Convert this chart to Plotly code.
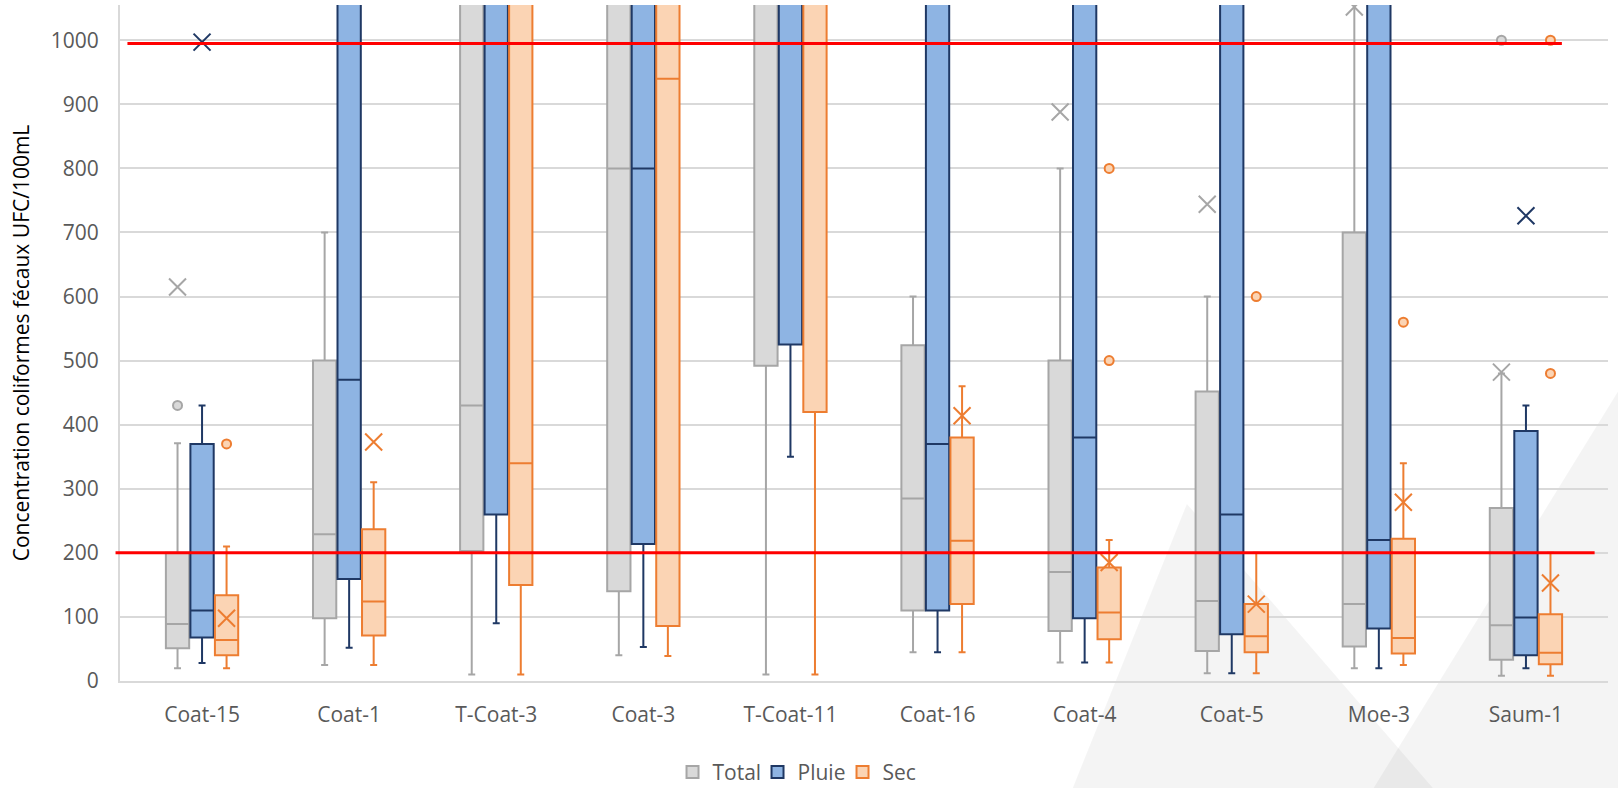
import plotly.graph_objects as go

# ---------------- data ----------------
categories = ["Coat-15", "Coat-1", "T-Coat-3", "Coat-3", "T-Coat-11",
              "Coat-16", "Coat-4", "Coat-5", "Moe-3", "Saum-1"]

# Total
total_lower = [20, 25, 10, 40, 10, 45, 29, 12, 20, 8]
total_q1 = [51, 98, 203, 140, 492, 110, 78, 47, 54, 33]
total_median = [89, 229, 430, 800, 1200, 285, 170, 125, 120, 87]
total_q3 = [200, 500, 1400, 1400, 1600, 524, 500, 452, 700, 270]
total_upper = [371, 700, 2000, 2000, 2500, 600, 800, 600, 1300, 480]
total_mean = [615, None, None, None, None, None, 888, 744, 1052, 482]
total_out_x = ["Coat-15", "Saum-1"]
total_out_y = [430, 1000]

# Pluie
pluie_lower = [28, 52, 90, 53, 350, 45, 29, 12, 20, 20]
pluie_q1 = [68, 159, 260, 214, 525, 110, 98, 73, 82, 40]
pluie_median = [110, 470, 1150, 800, 1300, 370, 380, 260, 220, 99]
pluie_q3 = [370, 1500, 2500, 1500, 3000, 1500, 1500, 1500, 1500, 390]
pluie_upper = [430, 3000, 5000, 3000, 6000, 3000, 3000, 3000, 3000, 430]
pluie_mean = [997, None, None, None, None, None, None, None, None, 726]
pluie_out_x = []
pluie_out_y = []

# Sec
sec_lower = [20, 25, 10, 39, 10, 45, 29, 12, 25, 8]
sec_q1 = [40, 71, 150, 86, 420, 120, 65, 45, 43, 26]
sec_median = [64, 124, 340, 940, 1200, 219, 107, 70, 67, 44]
sec_q3 = [134, 237, 1200, 1300, 1600, 380, 177, 120, 222, 104]
sec_upper = [210, 310, 2000, 2000, 2500, 460, 220, 200, 340, 200]
sec_mean = [98, 373, None, None, None, 414, 185, 120, 279, 153]
sec_out_x = ["Coat-15", "Coat-4", "Coat-4", "Coat-5", "Moe-3", "Saum-1", "Saum-1"]
sec_out_y = [370, 800, 500, 600, 560, 1000, 480]

thresholds = [200, 995]
y_ticks = [0, 100, 200, 300, 400, 500, 600, 700, 800, 900, 1000]

# ---------------- styling ----------------
FONT = "Open Sans"
series = [
    dict(name="Total", lower=total_lower, q1=total_q1, med=total_median, q3=total_q3,
         upper=total_upper, mean=total_mean, ox=total_out_x, oy=total_out_y,
         fill="#d9d9d9", line="#a6a6a6"),
    dict(name="Pluie", lower=pluie_lower, q1=pluie_q1, med=pluie_median, q3=pluie_q3,
         upper=pluie_upper, mean=pluie_mean, ox=pluie_out_x, oy=pluie_out_y,
         fill="#8eb4e3", line="#1f3864"),
    dict(name="Sec", lower=sec_lower, q1=sec_q1, med=sec_median, q3=sec_q3,
         upper=sec_upper, mean=sec_mean, ox=sec_out_x, oy=sec_out_y,
         fill="#fbd4b4", line="#ed7d31"),
]

fig = go.Figure()

for s in series:
    fig.add_trace(go.Box(
        name=s["name"], x=categories,
        q1=s["q1"], median=s["med"], q3=s["q3"],
        lowerfence=s["lower"], upperfence=s["upper"],
        offsetgroup=s["name"], boxpoints=False,
        fillcolor=s["fill"], line=dict(color=s["line"], width=2),
        whiskerwidth=0.3, hoverinfo="y",
    ))

for s in series:
    mx = [c for c, m in zip(categories, s["mean"]) if m is not None]
    my = [m for m in s["mean"] if m is not None]
    fig.add_trace(go.Box(
        x=mx, y=my, name=s["name"] + " moyenne", offsetgroup=s["name"],
        boxpoints="all", jitter=0, pointpos=0, showlegend=False,
        fillcolor="rgba(0,0,0,0)", line=dict(width=0, color="rgba(0,0,0,0)"),
        marker=dict(symbol="x-thin", size=17, color=s["line"],
                    line=dict(width=2, color=s["line"])),
        hoveron="points", hoverinfo="y",
    ))

for s in series:
    if not s["ox"]:
        continue
    fig.add_trace(go.Box(
        x=s["ox"], y=s["oy"], name=s["name"] + " aberrant", offsetgroup=s["name"],
        boxpoints="all", jitter=0, pointpos=0, showlegend=False,
        fillcolor="rgba(0,0,0,0)", line=dict(width=0, color="rgba(0,0,0,0)"),
        marker=dict(symbol="circle", size=9, color=s["fill"],
                    line=dict(width=2, color=s["line"])),
        hoveron="points", hoverinfo="y",
    ))

shapes = []
# background decoration (light grey triangles, bottom right)
shapes.append(dict(type="path", xref="paper", yref="paper", layer="below",
                   path="M 0.717 0.262 L 0.640 -0.16 L 0.883 -0.16 Z",
                   fillcolor="rgba(0,0,0,0.045)", line=dict(width=0)))
shapes.append(dict(type="path", xref="paper", yref="paper", layer="below",
                   path="M 1.01 0.44 L 0.842 -0.16 L 1.01 -0.16 Z",
                   fillcolor="rgba(0,0,0,0.045)", line=dict(width=0)))
# red threshold lines
shapes.append(dict(type="line", xref="paper", yref="y", x0=-0.003, x1=0.991,
                   y0=thresholds[0], y1=thresholds[0],
                   line=dict(color="#ff0000", width=3)))
shapes.append(dict(type="line", xref="paper", yref="y", x0=0.005, x1=0.969,
                   y0=thresholds[1], y1=thresholds[1],
                   line=dict(color="#ff0000", width=3)))

fig.update_layout(
    width=1618, height=788,
    margin=dict(l=120, r=10, t=5, b=107, autoexpand=False),
    paper_bgcolor="white", plot_bgcolor="rgba(0,0,0,0)",
    boxmode="group", boxgap=0.5, boxgroupgap=0.05,
    font=dict(family=FONT, size=21, color="#595959"),
    showlegend=True,
    legend=dict(orientation="h", x=0.457, xanchor="center",
                yref="container", y=0.02, yanchor="middle",
                entrywidth=40,
                font=dict(size=21, color="#595959"), bgcolor="rgba(0,0,0,0)",
                traceorder="normal"),
    shapes=shapes,
    xaxis=dict(type="category", categoryorder="array", categoryarray=categories,
               showgrid=False, showline=True, linecolor="#d9d9d9", linewidth=2,
               ticks="", ticklabelstandoff=14, tickfont=dict(size=21, color="#595959"),
               zeroline=False, automargin=False),
    yaxis=dict(range=[0, 1055], tickvals=y_ticks, showgrid=True, gridcolor="#d9d9d9",
               gridwidth=2, showline=True, linecolor="#d9d9d9", linewidth=2,
               zeroline=False, ticks="", ticklabelstandoff=15, automargin=False,
               tickfont=dict(size=21, color="#595959"),
               title=dict(text="Concentration coliformes fécaux UFC/100mL",
                          font=dict(size=21, color="#000000"), standoff=15)),
)

fig.write_html("out.html", config={"displayModeBar": False},
               post_script="document.body.style.margin='0';")
